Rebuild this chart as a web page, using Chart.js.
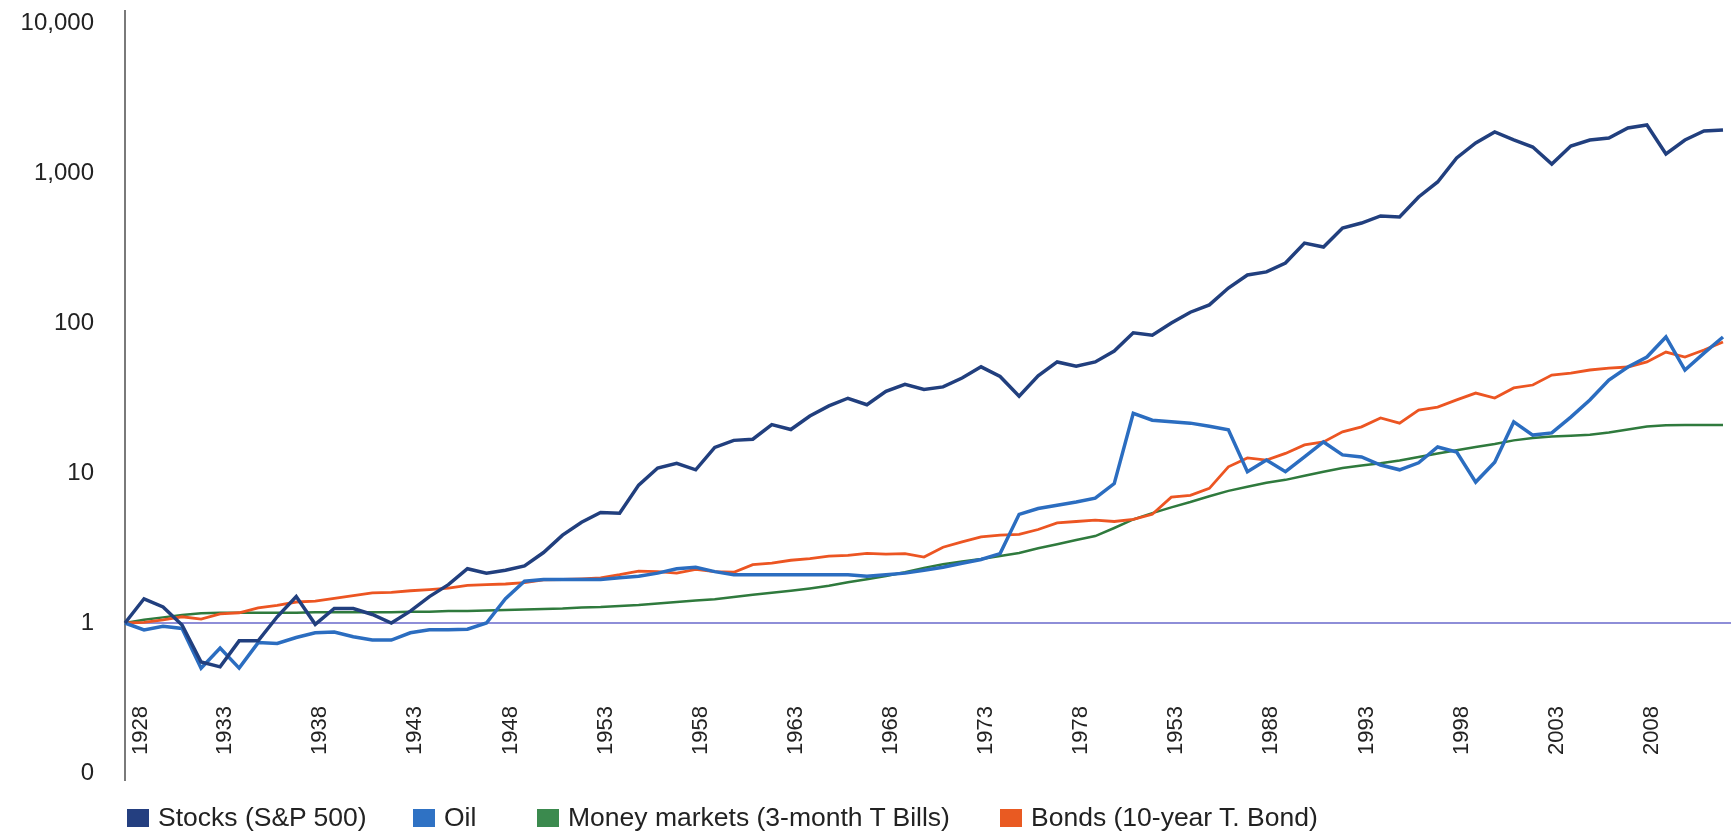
<!DOCTYPE html>
<html>
<head>
<meta charset="utf-8">
<script src="https://cdn.jsdelivr.net/npm/chart.js@4.4.1/dist/chart.umd.min.js"></script>
<style>
  html, body { margin: 0; padding: 0; background: #fff; }
  #wrap { position: relative; width: 1736px; height: 832px; }
  #myChart { display: block; }
  #legend {
    position: absolute; left: 0; top: 802px; width: 1736px; height: 30px;
    font: 26.5px 'Liberation Sans', Arial, sans-serif; color: #222;
  }
  #legend .item { position: absolute; top: 0; height: 30px; display: flex; align-items: center; white-space: nowrap; }
  #legend .box { width: 22px; height: 18px; margin-right: 9px; margin-top: 2px; }
  #legend .item:nth-child(1) { left: 127px; }
  #legend .item:nth-child(2) { left: 413px; }
  #legend .item:nth-child(3) { left: 537px; }
  #legend .item:nth-child(4) { left: 1000px; }
</style>
</head>
<body>
<div id="wrap">
  <canvas id="myChart"></canvas>
  <div id="legend"></div>
</div>
<script>
// one category per year, $1 invested at the start of 1928
const years = [
  '1928', '1929', '1930', '1931', '1932', '1933', '1934', '1935', '1936', '1937',
  '1938', '1939', '1940', '1941', '1942', '1943', '1944', '1945', '1946', '1947',
  '1948', '1949', '1950', '1951', '1952', '1953', '1954', '1955', '1956', '1957',
  '1958', '1959', '1960', '1961', '1962', '1963', '1964', '1965', '1966', '1967',
  '1968', '1969', '1970', '1971', '1972', '1973', '1974', '1975', '1976', '1977',
  '1978', '1979', '1980', '1981', '1982', '1983', '1984', '1985', '1986', '1987',
  '1988', '1989', '1990', '1991', '1992', '1993', '1994', '1995', '1996', '1997',
  '1998', '1999', '2000', '2001', '2002', '2003', '2004', '2005', '2006', '2007',
  '2008', '2009', '2010', '2011', '2012'
]

// labels printed under every fifth year (the original prints "1953" where 1983 belongs)
const xTickLabels = ['1928', '1933', '1938', '1943', '1948', '1953', '1958', '1963', '1968',
  '1973', '1978', '1953', '1988', '1993', '1998', '2003', '2008']
const xTickStep = 5

const yTickValues = [0.1, 1, 10, 100, 1000, 10000]
const yTickLabels = ['0', '1', '10', '100', '1,000', '10,000']

const seriesNames = ['Stocks (S&P 500)', 'Oil', 'Money markets (3-month T Bills)', 'Bonds (10-year T. Bond)']

const stocks = [
  1.00, 1.45, 1.28, 0.97, 0.55, 0.51, 0.76, 0.76, 1.10, 1.50,
  0.98, 1.25, 1.25, 1.14, 1.00, 1.20, 1.50, 1.80, 2.30, 2.15,
  2.25, 2.40, 2.95, 3.85, 4.70, 5.45, 5.40, 8.3, 10.8, 11.6,
  10.5, 14.8, 16.5, 16.8, 21.0, 19.5, 24.0, 28.0, 31.5, 28.5,
  35.0, 39.0, 36.0, 37.5, 43.0, 51.0, 44.0, 32.5, 44.5, 55.0,
  51.5, 55.0, 65.0, 86.0, 83.0, 100, 118, 132, 171, 209,
  219, 251, 341, 321, 430, 464, 517, 509, 692, 871,
  1259, 1585, 1877, 1660, 1490, 1148, 1514, 1660, 1711, 1995,
  2089, 1339, 1660, 1905, 1936
]

const oil = [
  1.00, 0.90, 0.95, 0.92, 0.50, 0.68, 0.50, 0.74, 0.73, 0.80,
  0.86, 0.87, 0.81, 0.77, 0.77, 0.86, 0.90, 0.90, 0.91, 1.00,
  1.45, 1.90, 1.95, 1.95, 1.95, 1.95, 2.00, 2.05, 2.15, 2.30,
  2.35, 2.20, 2.10, 2.10, 2.10, 2.10, 2.10, 2.10, 2.10, 2.05,
  2.10, 2.15, 2.25, 2.35, 2.50, 2.65, 2.90, 5.30, 5.80, 6.10,
  6.40, 6.80, 8.50, 25.0, 22.5, 22.0, 21.5, 20.5, 19.4, 10.2,
  12.2, 10.2, 12.8, 16.1, 13.2, 12.8, 11.3, 10.5, 11.7, 14.9,
  13.8, 8.7, 11.8, 21.9, 17.9, 18.5, 23.6, 30.7, 41.7, 50.9,
  59.3, 80.7, 48.6, 63.0, 80.7
]

const tBills = [
  1.00, 1.05, 1.09, 1.13, 1.16, 1.17, 1.17, 1.17, 1.17, 1.17,
  1.18, 1.18, 1.18, 1.18, 1.18, 1.19, 1.19, 1.20, 1.20, 1.21,
  1.22, 1.23, 1.24, 1.25, 1.27, 1.28, 1.30, 1.32, 1.35, 1.38,
  1.41, 1.44, 1.49, 1.54, 1.59, 1.64, 1.70, 1.77, 1.87, 1.96,
  2.06, 2.18, 2.33, 2.46, 2.57, 2.67, 2.80, 2.93, 3.15, 3.35,
  3.57, 3.80, 4.30, 4.90, 5.40, 5.90, 6.40, 7.00, 7.60, 8.10,
  8.60, 9.00, 9.60, 10.2, 10.8, 11.2, 11.6, 12.1, 12.8, 13.5,
  14.2, 14.9, 15.6, 16.5, 17.1, 17.5, 17.7, 18.0, 18.6, 19.5,
  20.4, 20.8, 20.9, 20.9, 20.9
]

const tBonds = [
  1.00, 1.01, 1.05, 1.10, 1.06, 1.15, 1.17, 1.26, 1.31, 1.38,
  1.40, 1.46, 1.52, 1.59, 1.60, 1.64, 1.67, 1.71, 1.78, 1.80,
  1.82, 1.86, 1.94, 1.95, 1.97, 2.00, 2.10, 2.22, 2.20, 2.15,
  2.28, 2.20, 2.18, 2.45, 2.51, 2.62, 2.69, 2.79, 2.82, 2.91,
  2.88, 2.90, 2.75, 3.20, 3.47, 3.75, 3.85, 3.90, 4.20, 4.65,
  4.75, 4.85, 4.75, 4.90, 5.30, 6.9, 7.1, 7.9, 11.0, 12.6,
  12.2, 13.5, 15.4, 16.1, 18.8, 20.3, 23.3, 21.5, 26.3, 27.5,
  30.7, 34.1, 31.6, 36.9, 38.6, 45.0, 46.4, 48.6, 50.1, 50.9,
  55.0, 64.0, 59.3, 66.0, 74.7
]

const colors = ['#213f7e', '#2b6dc0', '#2f7a3d', '#ec5522']
const legendColors = ['#243f80', '#2f72c4', '#3b8a4e', '#e95a22']
const FONT = "'Liberation Sans', Arial, sans-serif"

// purple horizontal line at 1 (the value everything starts from)
const baseLinePlugin = {
  id: 'baseLine',
  beforeDatasetsDraw (chart) {
    const ctx = chart.ctx
    const y = chart.scales.y.getPixelForValue(1)
    ctx.save()
    ctx.strokeStyle = '#8e8ed8'
    ctx.lineWidth = 2
    ctx.beginPath()
    ctx.moveTo(chart.chartArea.left, y)
    ctx.lineTo(chart.chartArea.right + 8, y)
    ctx.stroke()
    ctx.restore()
  }
}

// year labels sit inside the plot, near the bottom, read upwards
const yearLabelsPlugin = {
  id: 'yearLabels',
  afterDraw (chart) {
    const ctx = chart.ctx
    const xScale = chart.scales.x
    const bottom = chart.chartArea.bottom - 25
    ctx.save()
    ctx.font = '22px ' + FONT
    ctx.fillStyle = '#222'
    ctx.textAlign = 'left'
    ctx.textBaseline = 'middle'
    xTickLabels.forEach((label, k) => {
      // keep the first label clear of the y axis line
      const x = Math.max(xScale.getPixelForValue(k * xTickStep) + 5, chart.chartArea.left + 16)
      ctx.save()
      ctx.translate(x, bottom)
      ctx.rotate(-Math.PI / 2)
      ctx.fillText(label, 0, 0)
      ctx.restore()
    })
    ctx.restore()
  }
}

function makeDataset (i, data, width, order) {
  return {
    label: seriesNames[i],
    data: data,
    borderColor: colors[i],
    backgroundColor: colors[i],
    borderWidth: width,
    pointRadius: 0,
    tension: 0,
    order: order
  }
}

const configuration = {
  type: 'line',
  data: {
    labels: years,
    datasets: [
      makeDataset(0, stocks, 3.5, 0),
      makeDataset(1, oil, 3.5, 1),
      makeDataset(2, tBills, 2.5, 3),
      makeDataset(3, tBonds, 2.8, 2)
    ]
  },
  options: {
    responsive: true,
    maintainAspectRatio: false,
    animation: false,
    layout: { padding: { top: 11, right: 13, bottom: 52, left: 0 } },
    plugins: {
      legend: { display: false },
      tooltip: { enabled: false }
    },
    scales: {
      x: {
        type: 'category',
        display: false
      },
      y: {
        type: 'logarithmic',
        min: 0.0898,
        max: 12023,
        afterBuildTicks: scale => {
          scale.ticks = yTickValues.map(v => ({ value: v }))
        },
        afterFit: scale => {
          scale.width = 125
          scale.paddingTop = 0
          scale.paddingBottom = 0
        },
        grid: { display: false, drawTicks: false },
        border: { display: true, color: '#7a7a7a', width: 2 },
        ticks: {
          padding: 31,
          color: '#222',
          font: { family: FONT, size: 24 },
          callback: value => yTickLabels[yTickValues.indexOf(value)]
        }
      }
    }
  },
  plugins: [baseLinePlugin, yearLabelsPlugin]
}

// legend
const legendDiv = document.getElementById('legend')
seriesNames.forEach((name, i) => {
  const item = document.createElement('div')
  item.className = 'item'
  const box = document.createElement('span')
  box.className = 'box'
  box.style.background = legendColors[i]
  const text = document.createElement('span')
  text.textContent = name
  item.appendChild(box)
  item.appendChild(text)
  legendDiv.appendChild(item)
})

const canvas = document.getElementById('myChart')
const myChart = new Chart(canvas.getContext('2d'), configuration)
</script>
</body>
</html>
